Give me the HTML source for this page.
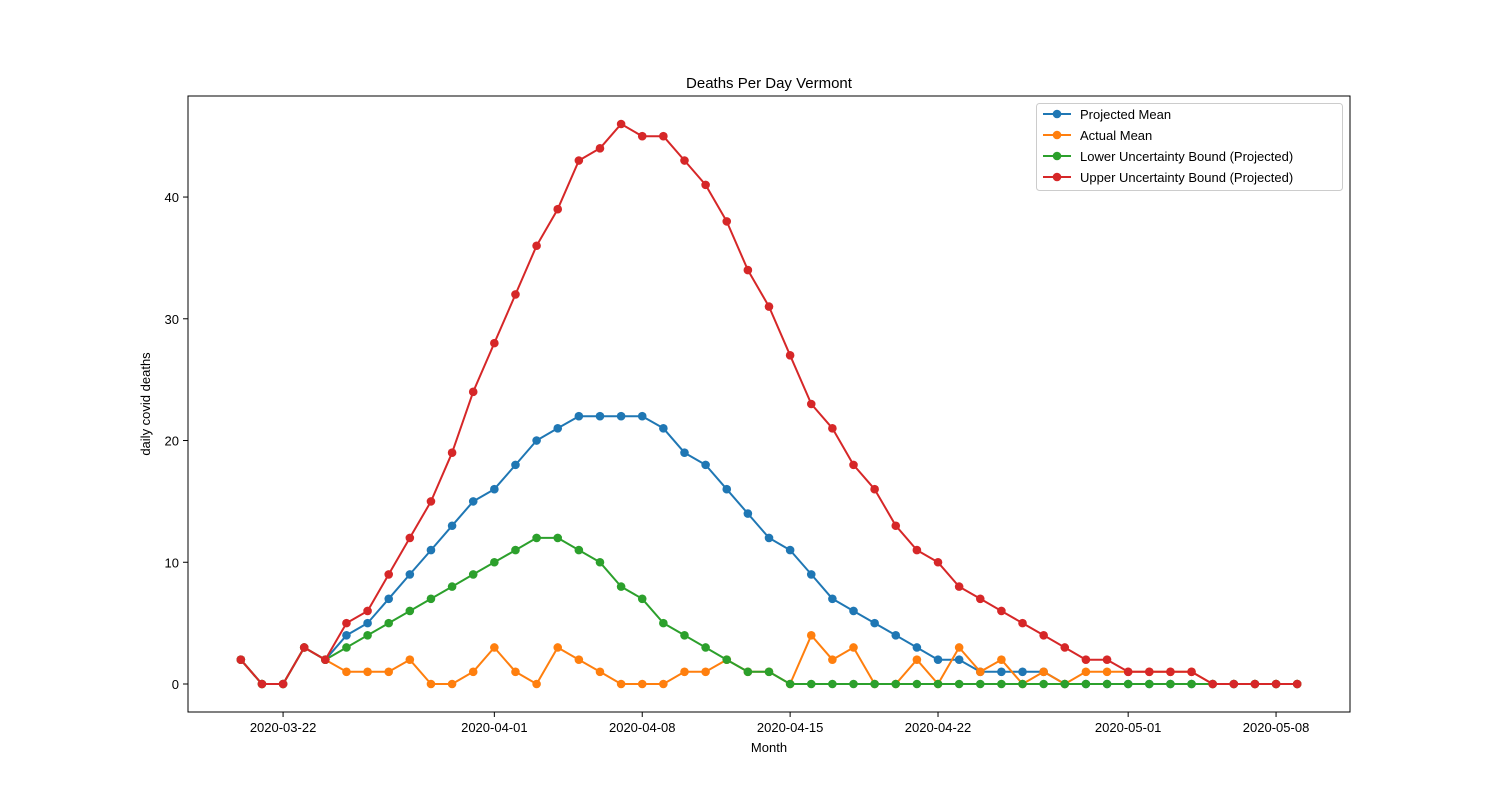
<!DOCTYPE html>
<html><head><meta charset="utf-8"><style>
body{margin:0;background:#fff;}
svg{display:block;font-family:"Liberation Sans","DejaVu Sans",sans-serif;}
</style></head><body>
<svg id="chart" width="1500" height="800">
<rect width="1500" height="800" fill="#fff"/>
<g id="plot"></g>
</svg>
<script>
const startDate = "2020-03-20";
const projectedMean = [2,0,0,3,2,4,5,7,9,11,13,15,16,18,20,21,22,22,22,22,21,19,18,16,14,12,11,9,7,6,5,4,3,2,2,1,1,1,1,0,0,0,0,0,0,0,0,0,0,0,0];
const actualMean = [2,0,0,3,2,1,1,1,2,0,0,1,3,1,0,3,2,1,0,0,0,1,1,2,1,1,0,4,2,3,0,0,2,0,3,1,2,0,1,0,1,1,1,1,1,1,0,0,0,0,0];
const lowerBound = [2,0,0,3,2,3,4,5,6,7,8,9,10,11,12,12,11,10,8,7,5,4,3,2,1,1,0,0,0,0,0,0,0,0,0,0,0,0,0,0,0,0,0,0,0,0,0,0,0,0,0];
const upperBound = [2,0,0,3,2,5,6,9,12,15,19,24,28,32,36,39,43,44,46,45,45,43,41,38,34,31,27,23,21,18,16,13,11,10,8,7,6,5,4,3,2,2,1,1,1,1,0,0,0,0,0];
const xTickLabels = ["2020-03-22","2020-04-01","2020-04-08","2020-04-15","2020-04-22","2020-05-01","2020-05-08"];
const yTicks = [0,10,20,30,40];
const seriesNames = ["Projected Mean","Actual Mean","Lower Uncertainty Bound (Projected)","Upper Uncertainty Bound (Projected)"];

const NS="http://www.w3.org/2000/svg";
const g=document.getElementById('plot');
const L=188,R=1350,T=96,B=712;
const DAY=86400000;
const t0=Date.parse(startDate);
const n=projectedMean.length;
const spanDays=n-1;
const allVals=[...projectedMean,...actualMean,...lowerBound,...upperBound];
const yMinD=Math.min(...allVals), yMaxD=Math.max(...allVals);
const yPad=(yMaxD-yMinD)*0.05;
const yLo=yMinD-yPad, yHi=yMaxD+yPad;
const xPad=spanDays*0.05;
function xDay(d){return L+(d+xPad)/(spanDays+2*xPad)*(R-L);}
function xDate(s){return xDay((Date.parse(s)-t0)/DAY);}
function y(v){return B-(v-yLo)/(yHi-yLo)*(B-T);}
function el(tag,attrs,parent){const e=document.createElementNS(NS,tag);for(const k in attrs)e.setAttribute(k,attrs[k]);(parent||g).appendChild(e);return e;}

// title
const title=el('text',{x:(L+R)/2,y:88,'text-anchor':'middle','font-size':15});
title.textContent="Deaths Per Day Vermont";



// x ticks
xTickLabels.forEach(s=>{
  const x=xDate(s);
  const tk=el('line',{x1:x,x2:x,y1:B,y2:B+5,stroke:'#000','stroke-width':1});
  
  
  const t=el('text',{x:x,y:B+20,'text-anchor':'middle','font-size':13});
  t.textContent=s;
  
  
});
yTicks.forEach(v=>{
  const yy=y(v);
  const tk=el('line',{x1:L-5,x2:L,y1:yy,y2:yy,stroke:'#000','stroke-width':1});
  
  
  const t=el('text',{x:L-9,y:yy+5,'text-anchor':'end','font-size':13});
  t.textContent=v;
  
  
});
const xl=el('text',{x:(L+R)/2,y:752,'text-anchor':'middle','font-size':13});
xl.textContent="Month";


const yl=el('text',{x:0,y:0,'text-anchor':'middle','font-size':13,transform:`translate(150,${(T+B)/2}) rotate(-90)`});
yl.textContent="daily covid deaths";



const colors=["#1f77b4","#ff7f0e","#2ca02c","#d62728"];
const data=[projectedMean,actualMean,lowerBound,upperBound];
const keys=["projected-mean","actual-mean","lower-bound","upper-bound"];
data.forEach((arr,i)=>{
  const sg=el('g',{});
  
  
  const pts=arr.map((v,d)=>xDay(d).toFixed(1)+','+y(v).toFixed(1)).join(' ');
  const pl=el('polyline',{points:pts,fill:'none',stroke:colors[i],'stroke-width':2,'stroke-linejoin':'round'},sg);
  
  
  arr.forEach((v,d)=>{
    const c=el('circle',{cx:xDay(d),cy:y(v),r:4.3,fill:colors[i]},sg);
    
    
  });
});

const frame=el('rect',{x:L,y:T,width:R-L,height:B-T,fill:'none',stroke:'#000','stroke-width':1});



// legend
const lg=el('g',{});


el('rect',{x:1036.5,y:103.5,width:306,height:87,rx:3,fill:'#fff','fill-opacity':0.8,stroke:'#ccc'},lg);
seriesNames.forEach((s,i)=>{
  const yy=114+i*21;
  const e=el('g',{},lg);
  
  
  el('line',{x1:1043,x2:1071,y1:yy,y2:yy,stroke:colors[i],'stroke-width':2},e);
  el('circle',{cx:1057,cy:yy,r:4.3,fill:colors[i]},e);
  const t=el('text',{x:1080,y:yy+5,'font-size':13},e);
  t.textContent=s;
});
</script>
</body></html>
